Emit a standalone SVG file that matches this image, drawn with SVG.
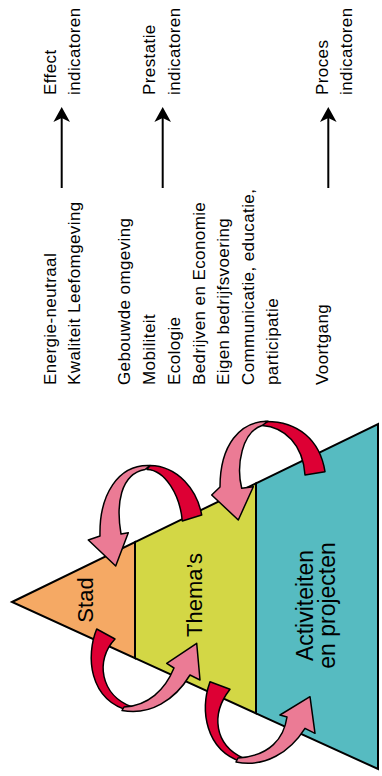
<svg xmlns="http://www.w3.org/2000/svg" width="382" height="776" viewBox="0 0 382 776">
<style>
.lbl{font-family:"Liberation Sans",Arial,sans-serif;font-size:17px;letter-spacing:0.4px;fill:#000}
.big{font-family:"Liberation Sans",Arial,sans-serif;font-size:22px;fill:#000;text-anchor:middle}
.sec{stroke:#000;stroke-width:2;stroke-linejoin:miter}
.red{fill:#DD0034;stroke:#000;stroke-width:1.5;stroke-linejoin:round}
.pink{fill:#EB7B95;stroke:#000;stroke-width:1.5;stroke-linejoin:round}
.vline{stroke:#000;stroke-width:2;fill:none}
</style>
<defs>
<marker id="ah" markerWidth="17" markerHeight="18" viewBox="-16 -9 17 18" refX="-10" refY="0" orient="auto" markerUnits="userSpaceOnUse">
<path d="M0,0 L-15,-8.3 L-11,0 L-15,8.3 Z" fill="#000"/>
</marker>
</defs>
<rect width="382" height="776" fill="#fff"/>

<g id="stad">
<polygon class="sec" fill="#F5A964" points="12,602 135,542.2 135,658.1"/>
<text class="big" transform="translate(93,600) rotate(-90)">Stad</text>
</g>
<g id="themas">
<polygon class="sec" fill="#D3D745" points="135,542.2 256,483.3 256,713.3 135,658.1"/>
<text class="big" transform="translate(202,595) rotate(-90)">Thema’s</text>
</g>
<g id="activiteiten">
<polygon class="sec" fill="#56BBC1" points="256,483.3 378,424 378,769 256,713.3"/>
<text class="big" style="font-size:23px" transform="translate(313,605.5) rotate(-90)">Activiteiten</text>
<text class="big" style="font-size:23px" transform="translate(335,605.5) rotate(-90)">en projecten</text>
</g>

<g id="effect-indicatoren">
<text class="lbl" transform="translate(56,95) rotate(-90)">Effect</text>
<text class="lbl" transform="translate(80,95) rotate(-90)">indicatoren</text>
</g>
<g id="prestatie-indicatoren">
<text class="lbl" transform="translate(155,95) rotate(-90)">Prestatie</text>
<text class="lbl" transform="translate(180,95) rotate(-90)">indicatoren</text>
</g>
<g id="proces-indicatoren">
<text class="lbl" transform="translate(328,95) rotate(-90)">Proces</text>
<text class="lbl" transform="translate(352,95) rotate(-90)">indicatoren</text>
</g>

<g id="effect-items">
<text class="lbl" transform="translate(55.5,385) rotate(-90)">Energie-neutraal</text>
<text class="lbl" transform="translate(80,385) rotate(-90)">Kwaliteit Leefomgeving</text>
</g>
<g id="prestatie-items">
<text class="lbl" transform="translate(130,385) rotate(-90)">Gebouwde omgeving</text>
<text class="lbl" transform="translate(155,385) rotate(-90)">Mobiliteit</text>
<text class="lbl" transform="translate(180,385) rotate(-90)">Ecologie</text>
<text class="lbl" transform="translate(204.5,385) rotate(-90)">Bedrijven en Economie</text>
<text class="lbl" transform="translate(229,385) rotate(-90)">Eigen bedrijfsvoering</text>
<text class="lbl" transform="translate(253.5,385) rotate(-90)">Communicatie, educatie,</text>
<text class="lbl" transform="translate(278,385) rotate(-90)">participatie</text>
</g>
<g id="proces-items">
<text class="lbl" transform="translate(327.5,385) rotate(-90)">Voortgang</text>
</g>

<g id="connectors">
<line class="vline" x1="61.7" y1="188" x2="61.7" y2="117" marker-end="url(#ah)"/>
<line class="vline" x1="162.7" y1="188" x2="162.7" y2="117" marker-end="url(#ah)"/>
<line class="vline" x1="328.3" y1="188" x2="328.3" y2="117" marker-end="url(#ah)"/>

<g id="arrow-themas-stad">
<path class="red" d="M201.7,515 C197,490 178,466 150,465.5 L147,469.5 C165,470 180,495 182.3,521 Z"/>
<path class="pink" d="M150,465.5 C118,464 99,495 100,536 L88.3,540 L115.7,566 L128.3,532.7 L121,534 C116,505 120,474 145,469.5 Z"/>
</g>
<g id="arrow-activiteiten-themas">
<path class="red" d="M325,471.7 C320,440 298,421 265,421.5 L262,425.5 C285,427 303,445 305,475 Z"/>
<path class="pink" d="M268,421.3 C240,421 220,445 220,487 L211.7,495 L238.3,520 L253.3,486.7 L241.7,488.3 C236,465 242,432 262,425.5 Z"/>
</g>
<g id="arrow-stad-themas">
<path class="red" d="M96.7,629 C86,655 88,700 130,711 L132,707 C100,695 95,660 115,639 Z"/>
<path class="pink" d="M122,710.5 C150,716 175,700 190,675 L200,680 L196.7,643.3 L166.7,663.3 L174,668 C165,690 148,706 124,707 Z"/>
</g>
<g id="arrow-themas-activiteiten">
<path class="red" d="M210,681.7 C200,710 205,750 242,762 L243,758 C215,745 210,715 230,689.3 Z"/>
<path class="pink" d="M236,762 C265,768 290,752 305,728.3 L315,733.3 L310,696.7 L280,715 L287,717 C284,738 270,756 238,758 Z"/>
</g>
</g>
</svg>
